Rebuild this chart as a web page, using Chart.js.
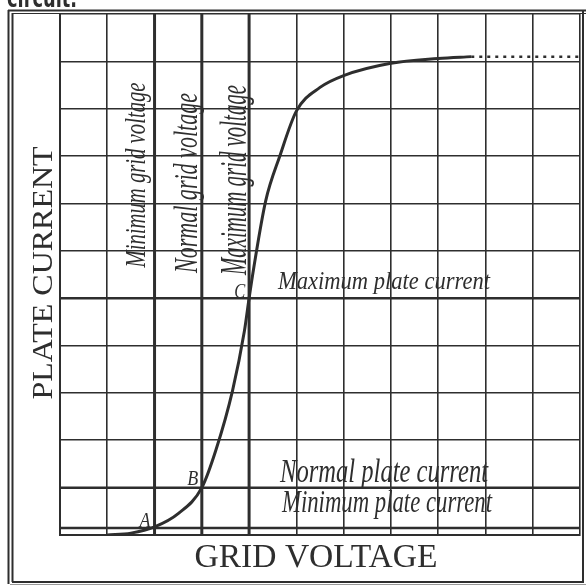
<!DOCTYPE html>
<html>
<head>
<meta charset="utf-8">
<script src="https://cdn.jsdelivr.net/npm/chart.js@4"></script>
<style>
  html, body { margin: 0; padding: 0; background: #fff; }
  #wrap { width: 586px; height: 585px; position: relative; }
</style>
</head>
<body>
<div id="wrap"><canvas id="grafico" width="586" height="585"></canvas></div>
<script>
// curva caracteristica (tensao de grade x corrente de placa)
const curveVoltage = [1.0, 1.5, 2.0, 2.5, 3.0, 3.3, 3.65, 3.9, 4.0, 4.1, 4.35, 4.65, 5.0, 5.5, 6.0, 7.0, 8.0, 8.7];
const curveCurrent = [0.0, 0.04, 0.17, 0.45, 1.0, 1.8, 3.05, 4.3, 5.0, 5.65, 7.05, 8.0, 8.95, 9.45, 9.7, 9.96, 10.06, 10.1];

// trecho pontilhado (saturacao)
const dotVoltage = [8.7, 11];
const dotCurrent = [10.1, 10.1];

// linhas de referencia
const gridVoltages = [2, 3, 4];          // minima, normal, maxima
const plateCurrents = [0.15, 1, 5];       // minima, normal, maxima

const gridLabels = ['Minimum grid voltage', 'Normal grid voltage', 'Maximum grid voltage'];
const plateLabels = ['Minimum plate current', 'Normal plate current', 'Maximum plate current'];
const pointLabels = ['A', 'B', 'C'];

const tinta = '#2e2e2e';

function pts(xs, ys) { return xs.map((x, i) => ({ x: x, y: ys[i] })); }

// escreve texto ajustado numa caixa (centro, comprimento, altura, rotacao)
function textoNaCaixa(ctx, txt, cx, cy, w, h, rot, fonte) {
    ctx.save();
    ctx.font = fonte;
    const m = ctx.measureText(txt);
    const asc = m.actualBoundingBoxAscent, desc = m.actualBoundingBoxDescent;
    ctx.translate(cx, cy);
    ctx.rotate(rot);
    ctx.scale(w / m.width, h / (asc + desc));
    ctx.textAlign = 'left';
    ctx.textBaseline = 'alphabetic';
    ctx.fillStyle = tinta;
    ctx.fillText(txt, -m.width / 2, (asc - desc) / 2);
    ctx.restore();
}

const moldura = {
    id: 'moldura',
    afterDraw(chart) {
        const ctx = chart.ctx;
        const sx = chart.scales.x, sy = chart.scales.y;
        ctx.save();
        ctx.strokeStyle = tinta;
        // borda externa
        ctx.lineWidth = 2; 
        ctx.beginPath();
        ctx.moveTo(8.5, 10); ctx.lineTo(8.5, 584);
        ctx.moveTo(12.5, 13); ctx.lineTo(12.5, 582);
        ctx.moveTo(8, 10.5); ctx.lineTo(586, 10.5);
        ctx.moveTo(12, 582); ctx.lineTo(584, 582);
        ctx.moveTo(583, 10); ctx.lineTo(583, 583);
        ctx.stroke();
        ctx.lineWidth = 1;
        ctx.beginPath();
        ctx.moveTo(12, 13.5); ctx.lineTo(586, 13.5);
        ctx.stroke();
        ctx.strokeStyle = '#999';
        ctx.beginPath();
        ctx.moveTo(10, 584.5); ctx.lineTo(586, 584.5);
        ctx.stroke();
        ctx.restore();

        // texto cortado no topo (so a parte de baixo aparece)
        ctx.save();
        ctx.beginPath(); ctx.rect(0, 0, 586, 8); ctx.clip();
        textoNaCaixa(ctx, 'circuit.', 42, -2, 70, 18, 0, 'bold 22px "DejaVu Sans"');
        ctx.restore();

        // titulos dos eixos
        textoNaCaixa(ctx, 'PLATE CURRENT', 42, 273, 253, 20, -Math.PI / 2, '36px "Liberation Serif"');
        textoNaCaixa(ctx, 'GRID VOLTAGE', 316, 555.5, 243, 23, 0, '36px "Liberation Serif"');

        const mao = 'italic 22px "Liberation Serif"';
        // rotulos das tensoes (verticais)
        const gw = [185, 180, 190], gh = [26, 30, 32], gdx = [-0.33, -0.25, -0.22], gy = [175, 183, 180];
        gridVoltages.forEach((v, i) => {
            const px = sx.getPixelForValue(v + gdx[i]);
            textoNaCaixa(ctx, gridLabels[i], px, gy[i], gw[i], gh[i], -Math.PI / 2, mao);
        });
        // rotulos das correntes (horizontais)
        const pcx = [387, 384, 384], pw = [210, 208, 212], ph = [28, 30, 22], pdy = [0.48, 0.27, 0.3];
        plateCurrents.forEach((c, i) => {
            const py = sy.getPixelForValue(c + pdy[i]);
            textoNaCaixa(ctx, plateLabels[i], pcx[i], py, pw[i], ph[i], 0, mao);
        });
        // letras A, B, C
        const ldx = [-0.2, -0.19, -0.2], ldy = [0.15, 0.2, 0.15];
        pointLabels.forEach((l, i) => {
            const px = sx.getPixelForValue(gridVoltages[i] + ldx[i]);
            const py = sy.getPixelForValue(plateCurrents[i] + ldy[i]);
            textoNaCaixa(ctx, l, px, py, 11, 13, 0, mao);
        });
    }
};

const datasets = [];
datasets.push({
    data: pts(curveVoltage, curveCurrent),
    borderColor: tinta, borderWidth: 3, pointRadius: 0,
    cubicInterpolationMode: 'monotone', order: 0
});
datasets.push({
    data: pts(dotVoltage, dotCurrent),
    borderColor: tinta, borderWidth: 2.5, borderDash: [3, 5], pointRadius: 0, order: 1
});
gridVoltages.forEach(v => {
    datasets.push({
        data: [{ x: v, y: 0 }, { x: v, y: 11 }],
        borderColor: tinta, borderWidth: 3, pointRadius: 0, order: 2
    });
});
plateCurrents.forEach(c => {
    datasets.push({
        data: [{ x: 0, y: c }, { x: 11, y: c }],
        borderColor: tinta, borderWidth: 2.5, pointRadius: 0, order: 2
    });
});

new Chart(document.getElementById('grafico'), {
    type: 'line',
    data: { datasets: datasets },
    options: {
        responsive: false,
        animation: false,
        layout: { padding: { left: 60, top: 14, right: 6, bottom: 50 } },
        plugins: { legend: { display: false }, tooltip: { enabled: false } },
        scales: {
            x: {
                type: 'linear', min: 0, max: 11,
                ticks: { display: false, stepSize: 1 },
                grid: { color: tinta, lineWidth: 1.6, drawTicks: false },
                border: { color: tinta, width: 2 }
            },
            y: {
                type: 'linear', min: 0, max: 11,
                ticks: { display: false, stepSize: 1 },
                grid: { color: tinta, lineWidth: 1.6, drawTicks: false },
                border: { color: tinta, width: 2 }
            }
        }
    },
    plugins: [moldura]
});
</script>
</body>
</html>
